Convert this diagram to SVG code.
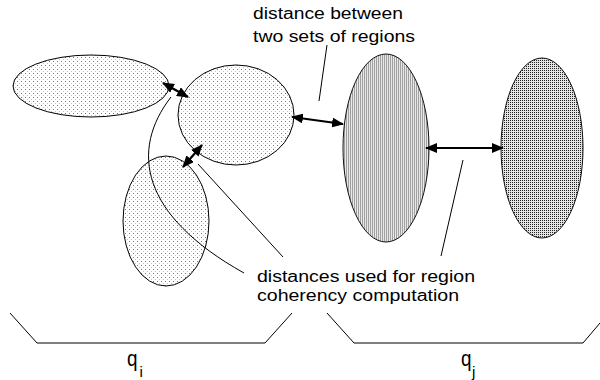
<svg xmlns="http://www.w3.org/2000/svg" width="600" height="380" viewBox="0 0 600 380">
  <style>
    .lbl { font-family: "Liberation Sans", Arial, sans-serif; font-size: 16px; fill: #000; }
    .ln { fill: none; stroke: #000; stroke-width: 1; }
    .arr { fill: none; stroke: #000; stroke-width: 2.2; marker-start: url(#ah); marker-end: url(#ah); }
    .light { stroke: #000; stroke-width: 1; fill: url(#dots); }
  </style>
  <defs>
    <pattern id="dots" width="4" height="4" patternUnits="userSpaceOnUse">
      <rect width="4" height="4" fill="#fff"/>
      <rect x="1" y="1" width="1" height="1" fill="#777"/>
      <rect x="3" y="3" width="1" height="1" fill="#c4c4c4"/>
    </pattern>
    <pattern id="stripes" width="2" height="2" patternUnits="userSpaceOnUse">
      <rect width="2" height="2" fill="#e8e8e8"/>
      <rect x="0" y="0" width="1" height="2" fill="#a0a0a0"/>
    </pattern>
    <pattern id="dense" width="2" height="2" patternUnits="userSpaceOnUse">
      <rect width="2" height="2" fill="#e4e4e4"/>
      <rect x="0" y="0" width="1" height="1" fill="#222"/>
    </pattern>
    <marker id="ah" viewBox="0 0 12 10" refX="11" refY="5" markerWidth="12" markerHeight="10" markerUnits="userSpaceOnUse" orient="auto-start-reverse">
      <path d="M0,0 L12,5 L0,10 Z" fill="#000"/>
    </marker>
  </defs>

  <g id="region-i1"><ellipse class="light" cx="91" cy="86" rx="78" ry="31"/></g>
  <g id="region-i2"><ellipse class="light" cx="236" cy="115" rx="58" ry="50"/></g>
  <g id="region-i3"><ellipse class="light" cx="166" cy="221" rx="43" ry="65"/></g>
  <g id="region-j1"><ellipse cx="386" cy="148" rx="43" ry="94" fill="url(#stripes)" stroke="#111" stroke-width="1"/></g>
  <g id="region-j2"><ellipse cx="542" cy="148" rx="41" ry="90" fill="url(#dense)" stroke="#111" stroke-width="1"/></g>

  <g id="connectors">
    <line class="arr" x1="163" y1="83" x2="188" y2="97"/>
    <line class="arr" x1="202" y1="145" x2="183" y2="167"/>
    <line class="arr" x1="292" y1="117" x2="343" y2="124"/>
    <line class="arr" x1="426" y1="148" x2="503" y2="148"/>
    <line class="ln" x1="327" y1="45" x2="319" y2="101"/>
    <line class="ln" x1="198" y1="164" x2="283" y2="257"/>
    <path class="ln" d="M171,97 C130,150 140,215 244,273"/>
    <line class="ln" x1="463" y1="160" x2="441" y2="256"/>
    <polyline class="ln" points="10,313 37,343 265,343 292,313"/>
    <polyline class="ln" points="327,313 354,343 583,343 600,323"/>
  </g>

  <g id="labels">
    <text class="lbl" x="253" y="19" textLength="150" lengthAdjust="spacingAndGlyphs">distance between</text>
    <text class="lbl" x="253" y="41.5" textLength="162" lengthAdjust="spacingAndGlyphs">two sets of regions</text>
    <text class="lbl" x="257" y="282" textLength="218" lengthAdjust="spacingAndGlyphs">distances used for region</text>
    <text class="lbl" x="257" y="301" textLength="202" lengthAdjust="spacingAndGlyphs">coherency computation</text>
    <text class="lbl" x="127" y="366" style="font-size:22px" textLength="10.5" lengthAdjust="spacingAndGlyphs">q</text>
    <text class="lbl" x="139.5" y="376.5" style="font-size:15px">i</text>
    <text class="lbl" x="461" y="366" style="font-size:22px" textLength="10.5" lengthAdjust="spacingAndGlyphs">q</text>
    <text class="lbl" x="472" y="376.5" style="font-size:15px">j</text>
  </g>
</svg>
